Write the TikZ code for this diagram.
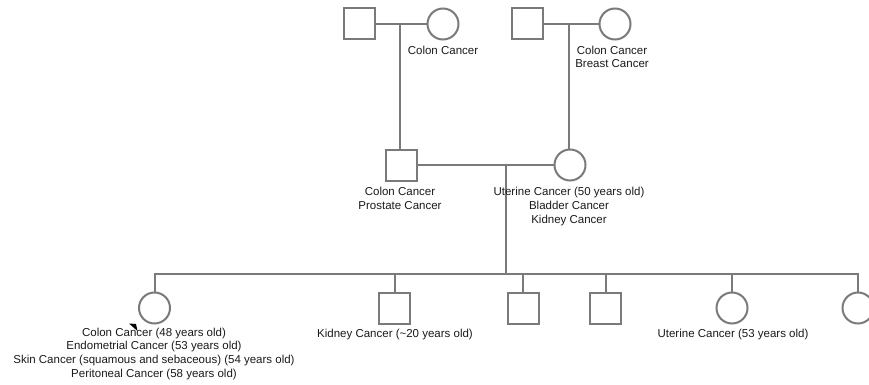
\documentclass[tikz,border=0pt]{standalone}
\usepackage{fontspec}
\setmainfont{Liberation Sans}
\definecolor{lineg}{HTML}{7A7A7A}
\definecolor{txt}{HTML}{1A1A1A}
\begin{document}
\begin{tikzpicture}[x=1pt,y=-1pt,
  male/.style={draw=lineg,line width=2pt,fill=white,rectangle,minimum size=31pt,inner sep=0pt},
  female/.style={draw=lineg,line width=2pt,fill=white,circle,minimum size=31pt,inner sep=0pt},
  link/.style={draw=lineg,line width=2pt},
  lbl/.style={text=txt,align=center,anchor=north,inner sep=0pt,font=\fontsize{11.5}{13.9}\selectfont}]
\useasboundingbox (0,0) rectangle (869,385);
\clip (0,0) rectangle (869,385);
% grandparents
\node[male] (gf1) at (359,24) {};
\node[female] (gm1) at (443,24) {};
\node[male] (gf2) at (527,24) {};
\node[female] (gm2) at (615,24) {};
% parents
\node[male] (fa) at (401,165) {};
\node[female] (mo) at (570,165) {};
% children
\node[female] (k1) at (154.5,308) {};
\node[male] (k2) at (394.5,308) {};
\node[male] (k3) at (523,308) {};
\node[male] (k4) at (605.5,308) {};
\node[female] (k5) at (732,308) {};
\node[female] (k6) at (858,308) {};
% connectors
\coordinate (m1) at (400,24);
\coordinate (m2) at (568.5,24);
\coordinate (m3) at (506,165);
\coordinate (sib) at (506,273.5);
\draw[link] (gf1.east) -- (gm1.west);
\draw[link] (gf2.east) -- (gm2.west);
\draw[link] (m1) -- (m1 |- fa.north);
\draw[link] (m2) -- (m2 |- mo.north);
\draw[link] (fa.east) -- (mo.west);
\draw[link] (m3) -- (sib);
\draw[link] (k1.north) -- (k1.north |- sib) -- (k6.north |- sib) -- (k6.north);
\foreach \k in {k2,k3,k4,k5} \draw[link] (\k.north) -- (\k.north |- sib);
% labels
\node[lbl] (t1) at (443,45.5) {Colon Cancer};
\node[lbl] (t2) at (612,45.5) {Colon Cancer\\Breast Cancer};
\node[lbl] (t3) at (400,187) {Colon Cancer\\Prostate Cancer};
\node[lbl] (t4) at (569,187) {Uterine Cancer (50 years old)\\Bladder Cancer\\Kidney Cancer};
\node[lbl] (t5) at (154,327.5) {Colon Cancer (48 years old)\\Endometrial Cancer (53 years old)\\Skin Cancer (squamous and sebaceous) (54 years old)\\Peritoneal Cancer (58 years old)};
\node[lbl] (t6) at (395,328.5) {Kidney Cancer (\textasciitilde20 years old)};
\node[lbl] (t7) at (733,328.5) {Uterine Cancer (53 years old)};
% marker
\fill[black] (129,323.5) -- (136,324) -- (137.5,331) -- cycle;
\end{tikzpicture}
\end{document}
